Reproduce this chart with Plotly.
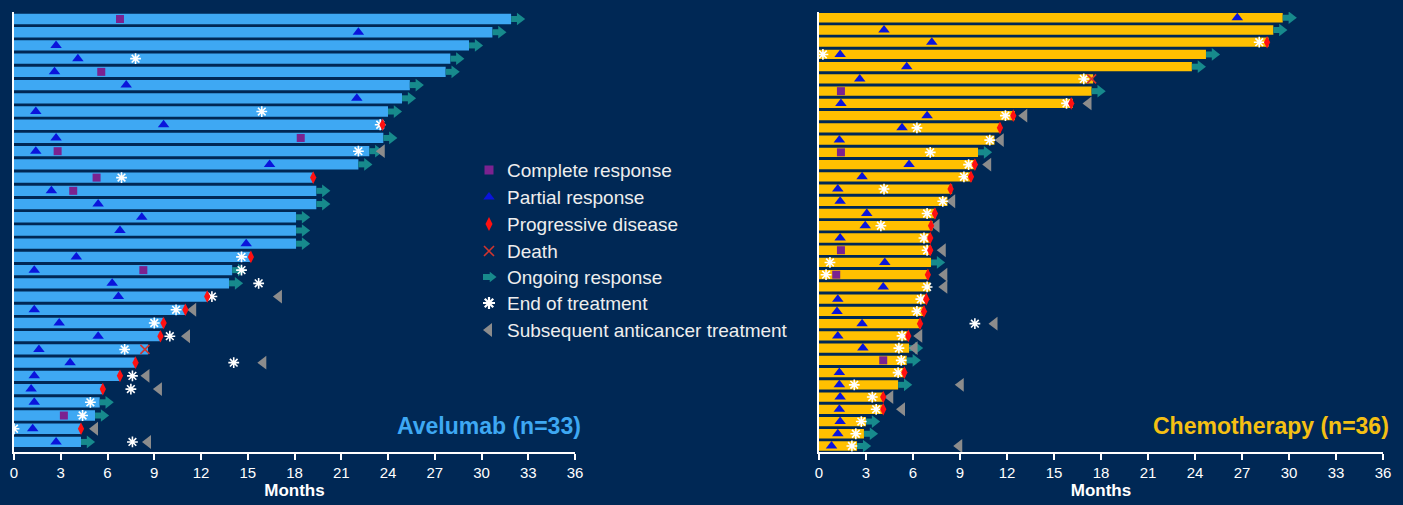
import plotly.graph_objects as go

# ---------------- data (months; rows listed top to bottom) ----------------
avel_duration = [31.9, 30.7, 29.2, 28.0, 27.7, 25.4, 24.9, 24.0, 23.7, 23.7,
                 22.8, 22.1, 19.2, 19.4, 19.4, 18.1, 18.1, 18.1, 15.2, 14.0,
                 13.8, 12.4, 11.0, 9.6, 9.4, 8.6, 7.8, 6.8, 5.7, 5.5,
                 5.2, 4.3, 4.3]
avel_ongoing = [1, 1, 1, 1, 1, 1, 1, 1, 0, 1,
                1, 1, 0, 1, 1, 1, 1, 1, 0, 1,
                1, 0, 0, 0, 0, 0, 0, 0, 0, 1,
                1, 0, 1]
avel_cr = [6.8, None, None, None, 5.6, None, None, None, None, 18.4,
           2.8, None, 5.3, 3.8, None, None, None, None, None, 8.3,
           None, None, None, None, None, None, None, None, None, None,
           3.2, None, None]
avel_pr = [None, 22.1, 2.7, 4.1, 2.6, 7.2, 22.0, 1.4, 9.6, 2.7,
           1.4, 16.4, None, 2.4, 5.4, 8.2, 6.8, 14.9, 4.0, 1.3,
           6.3, 6.7, 1.3, 2.9, 5.4, 1.6, 3.6, 1.3, 1.1, 1.3,
           None, 1.2, 2.7]
avel_pd = [None, None, None, None, None, None, None, None, 23.65, None,
           None, None, 19.2, None, None, None, None, None, 15.2, None,
           None, 12.4, 11.0, 9.6, 9.4, None, 7.8, 6.8, 5.7, None,
           None, 4.3, None]
avel_death = [None] * 25 + [8.4] + [None] * 7
avel_eot = [None, None, None, 7.8, None, None, None, 15.9, 23.5, None,
            22.1, None, 6.9, None, None, None, None, None, 14.6, 14.6,
            15.7, 12.7, 10.4, 9.0, 10.0, 7.1, 14.1, 7.6, 7.5, 4.9,
            4.4, 0.0, 7.6]
avel_subseq = [None, None, None, None, None, None, None, None, None, None,
               23.6, None, None, None, None, None, None, None, None, None,
               None, 17.0, 11.5, None, 11.1, None, 16.0, 8.5, 9.3, None,
               None, 5.2, 8.6]

chemo_duration = [29.6, 29.0, 28.7, 24.7, 23.8, 17.5, 17.4, 16.2, 12.5, 11.6,
                  11.2, 10.15, 10.0, 9.75, 8.5, 8.2, 7.45, 7.25, 7.15, 7.15,
                  7.15, 7.0, 7.1, 6.9, 6.75, 6.5, 5.75, 5.75, 5.6, 5.5,
                  5.05, 4.15, 4.1, 3.0, 2.87, 2.43]
chemo_ongoing = [1, 1, 0, 1, 1, 0, 1, 0, 0, 0,
                 0, 1, 0, 0, 0, 0, 0, 0, 0, 0,
                 1, 0, 0, 0, 0, 0, 0, 1, 1, 0,
                 1, 0, 0, 1, 1, 1]
chemo_cr = [None, None, None, None, None, None, 1.4, None, None, None,
            None, 1.4, None, None, None, None, None, None, None, 1.4,
            None, 1.1, None, None, None, None, None, None, 4.1, None,
            None, None, None, None, None, None]
chemo_pr = [26.7, 4.15, 7.2, 1.35, 5.6, 2.6, None, 1.4, 6.9, 5.3,
            1.3, None, 5.75, 2.75, 1.2, 1.35, 3.05, 2.95, 1.35, None,
            4.2, None, 4.1, 1.2, 1.15, 2.75, 1.2, 2.8, None, 1.3,
            1.3, 1.35, 1.3, 1.35, 1.2, 0.8]
chemo_pd = [None, None, 28.6, None, None, None, None, 16.1, 12.4, 11.55,
            None, None, 9.95, 9.7, 8.4, None, 7.4, 7.15, 7.1, 7.1,
            None, 6.95, None, 6.85, 6.7, 6.45, 5.7, None, None, 5.45,
            None, 4.1, 4.1, None, None, None]
chemo_death = [None] * 5 + [17.4] + [None] * 30
chemo_eot = [None, None, 28.1, 0.25, None, 16.9, None, 15.8, 11.9, 6.25,
             10.9, 7.1, 9.55, 9.25, 4.15, 7.9, 6.9, 3.95, 6.7, 6.9,
             0.7, 0.45, 6.9, 6.5, 6.25, 9.95, 5.3, 5.1, 5.25, 5.05,
             2.25, 3.4, 3.65, 2.7, 2.35, 2.1]
chemo_subseq = [None, None, None, None, None, None, None, 17.2, 13.1, None,
                11.6, None, 10.8, None, None, 8.5, None, 7.5, None, 7.9,
                None, 8.0, 8.0, None, None, 11.2, 6.4, 6.1, None, None,
                9.05, 4.55, 5.3, None, None, 8.95]

month_ticks = list(range(0, 37, 3))

legend_labels = ["Complete response", "Partial response", "Progressive disease",
                 "Death", "Ongoing response", "End of treatment",
                 "Subsequent anticancer treatment"]

# ---------------- styling ----------------
BG = "#002855"
BLUE_BAR = "#3ea8f3"
GOLD_BAR = "#ffc000"
CR_COL = "#7b2290"
PR_COL = "#0a14dc"
PD_COL = "#ff1010"
DEATH_COL = "#d2352e"
ONGO_COL = "#178a8c"
EOT_COL = "#ffffff"
SUB_COL = "#8c8c8c"
FONT = "Arial, Liberation Sans, sans-serif"

W, H = 1403, 505


def px_x(p):
    return p / W


def px_y(p):
    return 1 - p / H


fig = go.Figure()


def events(values, n):
    xs, ys = [], []
    for i, v in enumerate(values):
        if v is not None:
            xs.append(v)
            ys.append(n - 1 - i)
    return xs, ys


def add_panel(duration, ongoing, cr, pr, pd_, death, eot, subseq,
              bar_color, bar_width, xa, ya):
    n = len(duration)
    rows = [n - 1 - i for i in range(n)]
    fig.add_trace(go.Bar(x=duration, y=rows, orientation="h", width=bar_width,
                         marker=dict(color=bar_color, line=dict(width=0)),
                         xaxis=xa, yaxis=ya, hoverinfo="skip"))

    # ongoing-response arrows: shaft + head placed right after the bar end
    sx, sy, hx, hy = [], [], [], []
    for i, (d, g) in enumerate(zip(duration, ongoing)):
        if g:
            r = n - 1 - i
            sx += [d, d + 0.5, None]
            sy += [r, r, None]
            hx.append(d + 0.55)
            hy.append(r)
    fig.add_trace(go.Scatter(x=sx, y=sy, mode="lines",
                             line=dict(color=ONGO_COL, width=6),
                             xaxis=xa, yaxis=ya, hoverinfo="skip"))
    fig.add_trace(go.Scatter(x=hx, y=hy, mode="markers",
                             marker=dict(symbol="triangle-right", size=11,
                                         color=ONGO_COL, line=dict(width=0)),
                             xaxis=xa, yaxis=ya, hoverinfo="skip"))

    x, y = events(subseq, n)
    fig.add_trace(go.Scatter(x=x, y=y, mode="markers",
                             marker=dict(symbol="triangle-left", size=12,
                                         color=SUB_COL, line=dict(width=0)),
                             xaxis=xa, yaxis=ya, hoverinfo="skip"))
    x, y = events(cr, n)
    fig.add_trace(go.Scatter(x=x, y=y, mode="markers",
                             marker=dict(symbol="square", size=8,
                                         color=CR_COL, line=dict(width=0)),
                             xaxis=xa, yaxis=ya, hoverinfo="skip"))
    x, y = events(pr, n)
    fig.add_trace(go.Scatter(x=x, y=y, mode="markers",
                             marker=dict(symbol="triangle-up", size=10,
                                         color=PR_COL, line=dict(width=0)),
                             xaxis=xa, yaxis=ya, hoverinfo="skip"))
    x, y = events(eot, n)
    fig.add_trace(go.Scatter(x=x, y=y, mode="markers",
                             marker=dict(symbol="asterisk-open", size=9,
                                         color=EOT_COL,
                                         line=dict(color=EOT_COL, width=1.6)),
                             xaxis=xa, yaxis=ya, hoverinfo="skip"))
    x, y = events(pd_, n)
    fig.add_trace(go.Scatter(x=x, y=y, mode="markers",
                             marker=dict(symbol="diamond-tall", size=9,
                                         color=PD_COL, line=dict(width=0)),
                             xaxis=xa, yaxis=ya, hoverinfo="skip"))
    x, y = events(death, n)
    fig.add_trace(go.Scatter(x=x, y=y, mode="markers",
                             marker=dict(symbol="x-thin-open", size=9,
                                         color=DEATH_COL,
                                         line=dict(color=DEATH_COL, width=1.6)),
                             xaxis=xa, yaxis=ya, hoverinfo="skip"))


add_panel(avel_duration, avel_ongoing, avel_cr, avel_pr, avel_pd, avel_death,
          avel_eot, avel_subseq, BLUE_BAR, 0.78, "x", "y")
add_panel(chemo_duration, chemo_ongoing, chemo_cr, chemo_pr, chemo_pd,
          chemo_death, chemo_eot, chemo_subseq, GOLD_BAR, 0.76, "x2", "y2")

# ---------------- legend (drawn in its own pixel-unit axes) ----------------
leg_y = [170, 197, 224, 251, 277, 303, 330]
leg_mx = 489
leg_specs = [
    dict(symbol="square", size=9, color=CR_COL, line=dict(width=0)),
    dict(symbol="triangle-up", size=10, color=PR_COL, line=dict(width=0)),
    dict(symbol="diamond-tall", size=10, color=PD_COL, line=dict(width=0)),
    dict(symbol="x-thin-open", size=10, color=DEATH_COL,
         line=dict(color=DEATH_COL, width=1.6)),
    None,
    dict(symbol="asterisk-open", size=10, color=EOT_COL,
         line=dict(color=EOT_COL, width=2.2)),
    dict(symbol="triangle-left", size=12, color=SUB_COL, line=dict(width=0)),
]
for ly, spec in zip(leg_y, leg_specs):
    if spec is None:
        fig.add_trace(go.Scatter(x=[leg_mx - 6, leg_mx + 2], y=[ly, ly],
                                 mode="lines",
                                 line=dict(color=ONGO_COL, width=6),
                                 xaxis="x3", yaxis="y3", hoverinfo="skip"))
        fig.add_trace(go.Scatter(x=[leg_mx + 3], y=[ly], mode="markers",
                                 marker=dict(symbol="triangle-right", size=9,
                                             color=ONGO_COL, line=dict(width=0)),
                                 xaxis="x3", yaxis="y3", hoverinfo="skip"))
    else:
        fig.add_trace(go.Scatter(x=[leg_mx], y=[ly], mode="markers",
                                 marker=spec, xaxis="x3", yaxis="y3",
                                 hoverinfo="skip"))

annotations = []
for ly, lab in zip(leg_y, legend_labels):
    annotations.append(dict(x=505, y=ly, xref="x3", yref="y3", text=lab,
                            showarrow=False, xanchor="left", yanchor="middle",
                            font=dict(family=FONT, size=19, color="#eeeeee")))

annotations.append(dict(x=px_x(583), y=px_y(426), xref="paper", yref="paper",
                        text="<b>Avelumab (n=33)</b>", showarrow=False,
                        xanchor="right", yanchor="middle",
                        font=dict(family=FONT, size=23, color=BLUE_BAR)))
annotations.append(dict(x=px_x(1391), y=px_y(426), xref="paper", yref="paper",
                        text="<b>Chemotherapy (n=36)</b>", showarrow=False,
                        xanchor="right", yanchor="middle",
                        font=dict(family=FONT, size=23, color="#f5c013")))

xaxis_common = dict(range=[0, 36], tickvals=month_ticks, ticks="outside",
                    ticklen=6, tickwidth=1.5, tickcolor="white",
                    showline=True, linecolor="white", linewidth=2,
                    showgrid=False, zeroline=False, automargin=False,
                    tickfont=dict(family=FONT, size=15, color="white"),
                    title=dict(text="<b>Months</b>", standoff=2,
                               font=dict(family=FONT, size=17, color="white")),
                    fixedrange=True)
yaxis_common = dict(showline=True, linecolor="white", linewidth=2,
                    showticklabels=False, ticks="", showgrid=False,
                    zeroline=False, fixedrange=True, automargin=False,
                    domain=[px_y(452), px_y(12)])

fig.update_layout(
    width=W, height=H,
    margin=dict(l=0, r=0, t=0, b=0, autoexpand=False),
    paper_bgcolor=BG, plot_bgcolor=BG,
    showlegend=False,
    barmode="overlay",
    xaxis=dict(xaxis_common, domain=[px_x(14), px_x(575)], anchor="y"),
    yaxis=dict(yaxis_common, range=[-0.76, 32.53], anchor="x"),
    xaxis2=dict(xaxis_common, domain=[px_x(819), px_x(1383)], anchor="y2"),
    yaxis2=dict(yaxis_common, range=[-0.49, 35.47], anchor="x2"),
    xaxis3=dict(domain=[px_x(480), px_x(800)], range=[480, 800], visible=False,
                anchor="y3", fixedrange=True, automargin=False),
    yaxis3=dict(domain=[px_y(345), px_y(155)], range=[345, 155], visible=False,
                anchor="x3", fixedrange=True, automargin=False),
    annotations=annotations,
)

fig.write_html("out.html", config=dict(displayModeBar=False))
